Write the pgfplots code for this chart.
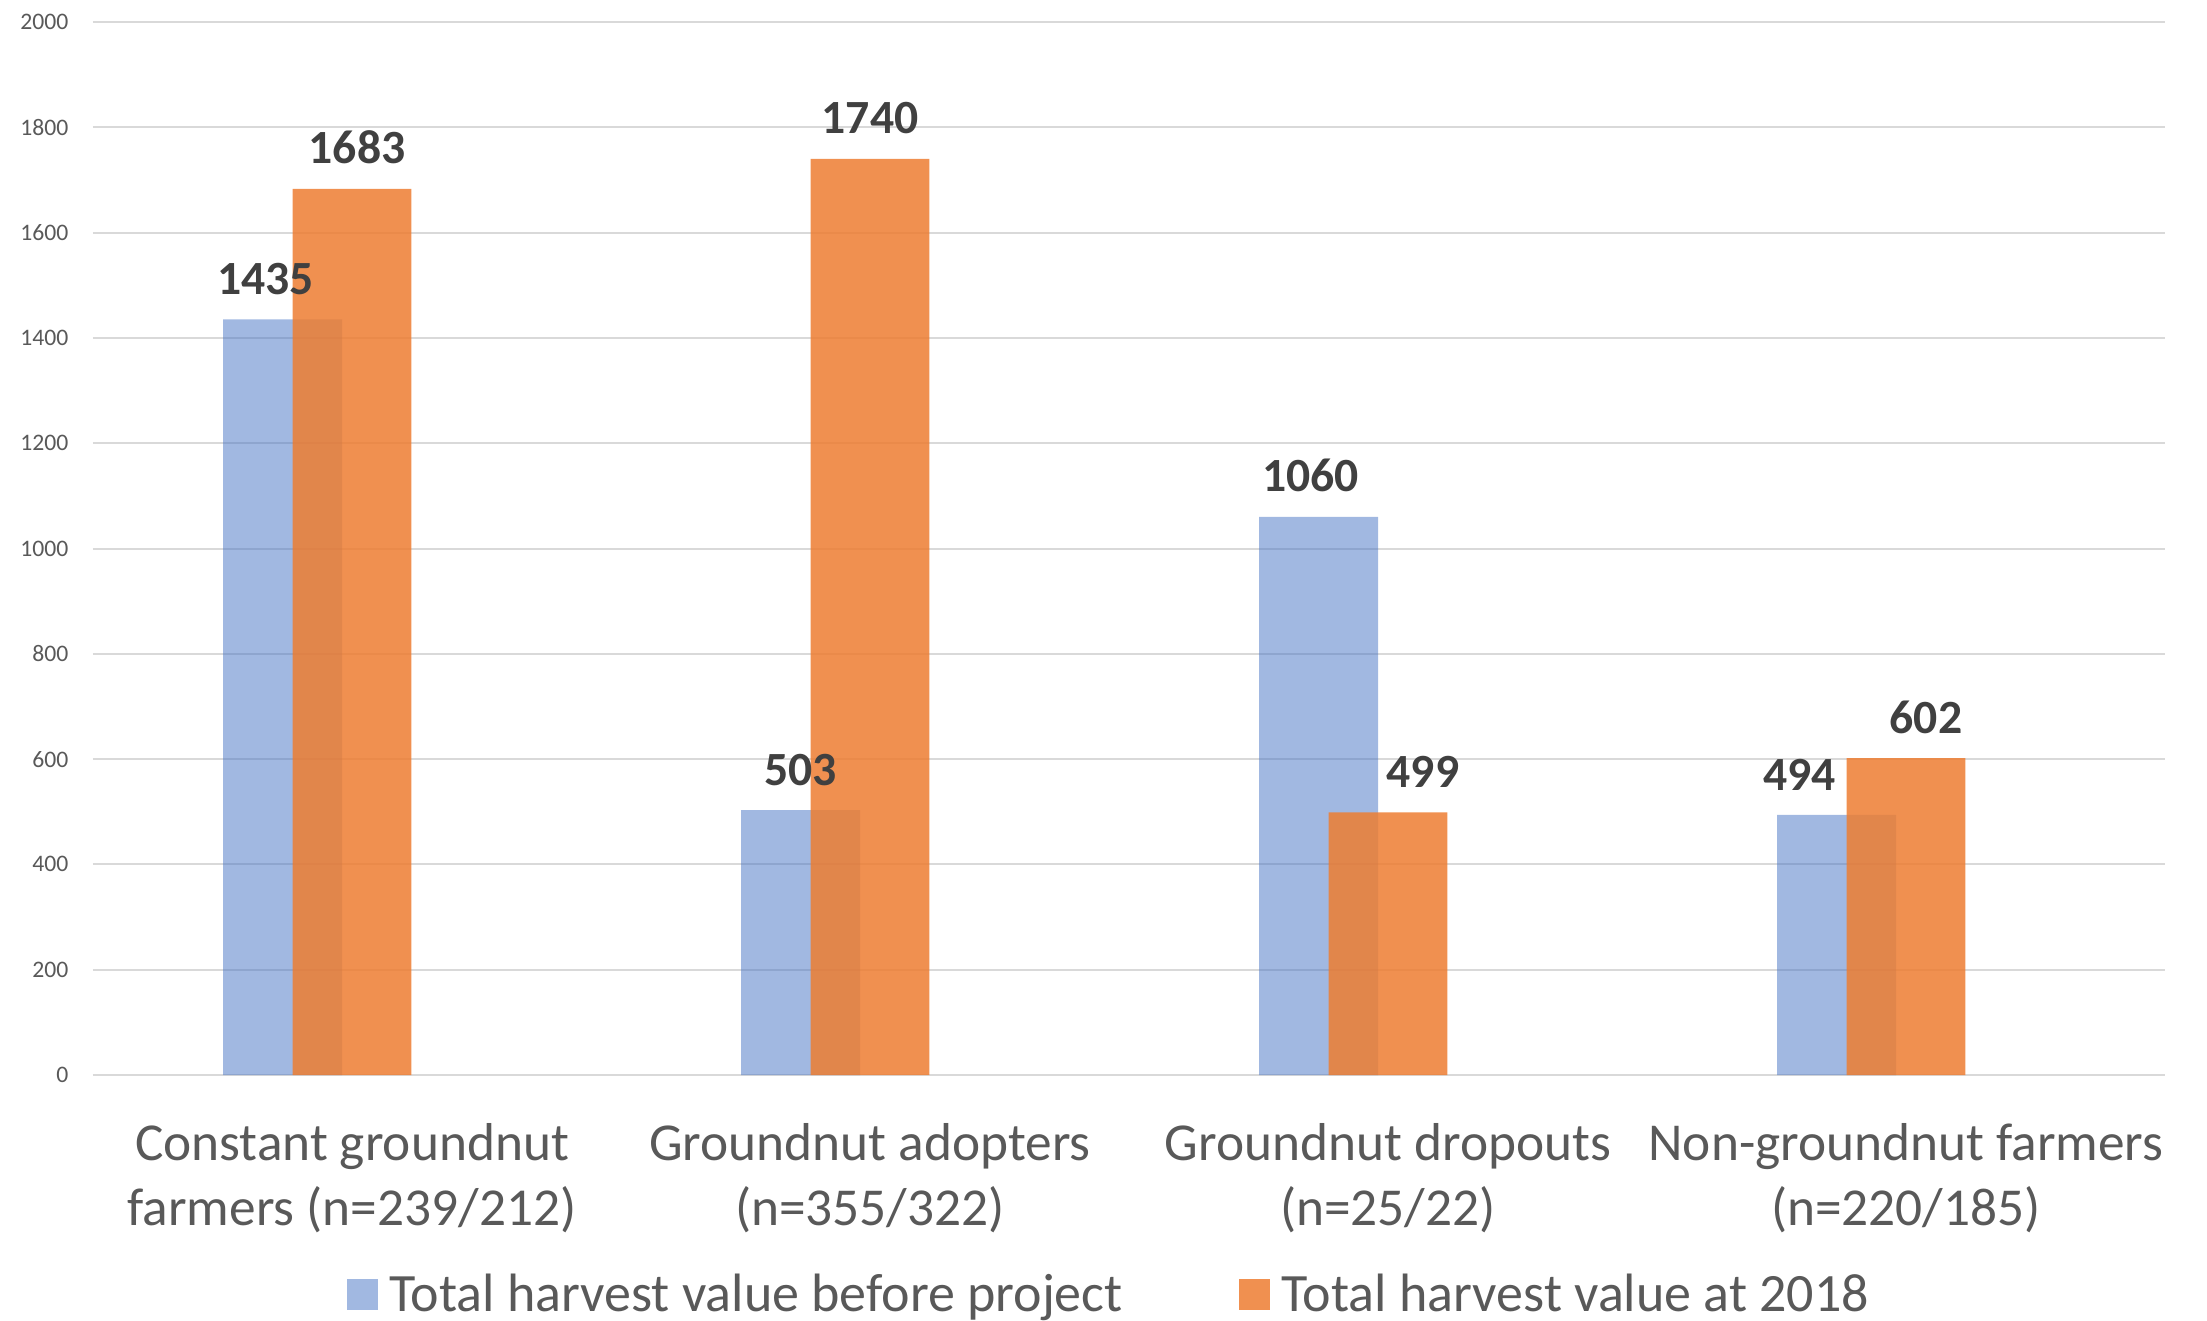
\documentclass[border=0pt]{standalone}
\usepackage{fontspec}
\setmainfont{Carlito}
\usepackage{pgfplots}
\usepackage{pgfplotstable}
\pgfplotsset{compat=1.18}
\definecolor{blueS}{HTML}{4472C4}
\definecolor{orangeS}{HTML}{ED7D31}
\definecolor{txt}{HTML}{595959}
\definecolor{lbl}{HTML}{404040}
\definecolor{grd}{HTML}{D9D9D9}

\pgfplotstableread{
x y dx
-0.134 1435 -5.1
0.866 503 0
1.866 1060 -2.4
2.866 494 -11.1
}\blueT
\pgfplotstableread{
x y dx
0 1683 1.5
1 1740 0
2 499 10.5
3 602 6
}\orangeT

\begin{document}
\begin{tikzpicture}
\useasboundingbox (-27.9pt,-73.8pt) rectangle (634.2pt,322.5pt);
\begin{axis}[
  at={(0,0)}, anchor=south west,
  scale only axis, width=621.6pt, height=315.9pt,
  xmin=-0.5, xmax=3.5, ymin=0, ymax=2000,
  ytick={0,200,...,2000},
  xtick={0,1,2,3},
  xticklabels={{Constant groundnut\\farmers (n=239/212)},{Groundnut adopters\\(n=355/322)},{Groundnut dropouts\\(n=25/22)},{Non-groundnut farmers\\(n=220/185)}},
  xticklabel style={align=center, font=\fontsize{16}{19.3}\selectfont, text=txt, inner sep=0pt, yshift=-14.4pt},
  yticklabel style={font=\fontsize{7.1}{8}\selectfont, text=txt, inner sep=0pt, xshift=-7.2pt},
  axis line style={draw=none},
  major tick length=0pt,
  ymajorgrids, grid style={grd, line width=0.6pt},
  /pgf/number format/assume math mode=true,
  /pgf/number format/1000 sep={},
  clip=false,
  ybar,
  legend style={at={(axis description cs:0.4915,-0.209)}, anchor=center, draw=none, fill=none,
    font=\fontsize{16.2}{19.5}\selectfont, text=txt,
    /tikz/every even column/.append style={column sep=33pt}},
  legend columns=2,
  every node near coord/.append style={font=\bfseries\fontsize{14.3}{16}\selectfont, text=lbl, inner sep=0pt, yshift=7.2pt, opacity=1, text opacity=1, fill opacity=1},
]
\addplot[fill=blueS, fill opacity=0.5, draw=none, bar width=0.2297, bar shift=0pt,
  legend image code/.code={\fill[blueS, fill opacity=0.5] (0pt,-4.6pt) rectangle (9.3pt,4.7pt); \path (10.6pt,0pt);},
  nodes near coords, point meta=y,
  visualization depends on={\thisrow{dx}\as\dx},
  every node near coord/.append style={xshift=\dx pt}]
  table[x=x,y=y]{\blueT};
\addlegendentry{Total harvest value before project}
\addplot[fill=orangeS, fill opacity=0.85, draw=none, bar width=0.2297, bar shift=0pt,
  legend image code/.code={\fill[orangeS, fill opacity=0.85] (0pt,-4.6pt) rectangle (9.3pt,4.7pt); \path (10.6pt,0pt);},
  nodes near coords, point meta=y,
  visualization depends on={\thisrow{dx}\as\dx},
  every node near coord/.append style={xshift=\dx pt}]
  table[x=x,y=y]{\orangeT};
\addlegendentry{Total harvest value at 2018}
\end{axis}
\end{tikzpicture}
\end{document}
